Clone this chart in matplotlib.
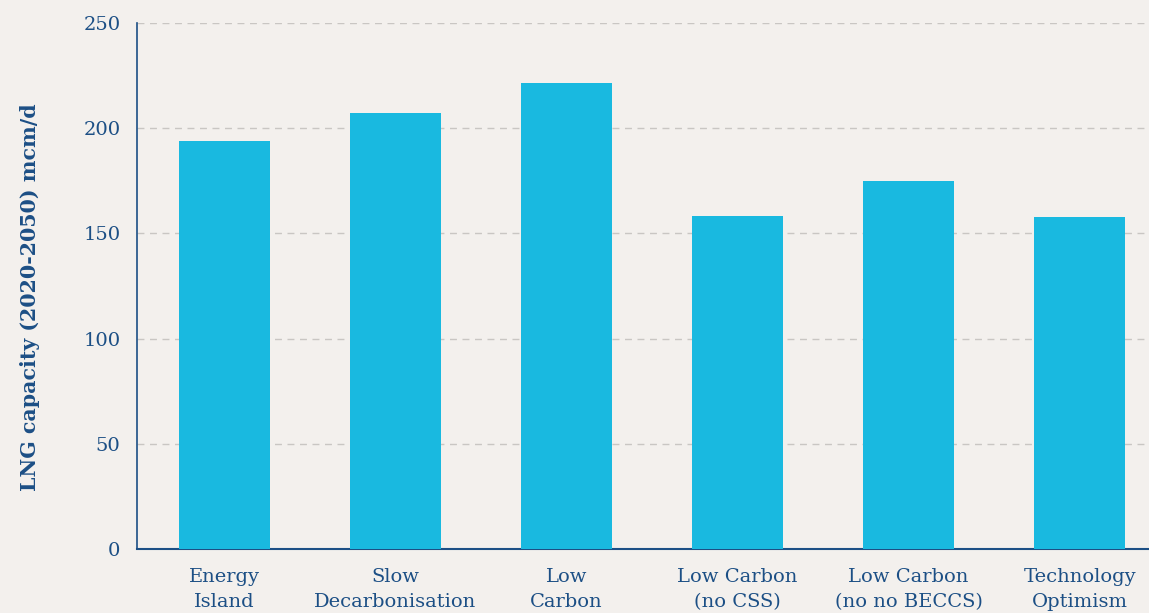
import matplotlib
matplotlib.use("Agg")
import matplotlib.pyplot as plt

categories = ["Energy\nIsland", "Slow\nDecarbonisation", "Low\nCarbon",
              "Low Carbon\n(no CSS)", "Low Carbon\n(no no BECCS)", "Technology\nOptimism"]
values = [193.7, 207.0, 221.4, 158.4, 175.1, 157.9]
yticks = [0, 50, 100, 150, 200, 250]

bg = "#f3f0ed"
bar_color = "#19b9e0"
text_color = "#1c4f85"

plt.rcParams['font.family'] = ['DejaVu Serif']

fig = plt.figure(figsize=(11.49, 6.13), dpi=100, facecolor=bg)
ax = fig.add_axes([137/1149, 1 - 549/613, 1 - 137/1149, (549 - 23)/613])
ax.set_facecolor(bg)

x = list(range(len(categories)))
ax.bar(x, values, width=0.532, color=bar_color, zorder=3)

ax.set_xlim(-0.512, 5.406)
ax.set_ylim(0, 250)
ax.set_yticks(yticks)
ax.set_yticklabels([str(v) for v in yticks])
ax.set_xticks(x)
ax.set_xticklabels(categories, linespacing=1.45)

ax.grid(axis='y', color='#c9c6c3', linestyle=(0, (5, 4)), linewidth=1.0, zorder=0)
ax.grid(axis='x', visible=False)

for s in ['top', 'right']:
    ax.spines[s].set_visible(False)
ax.spines['left'].set_color(text_color)
ax.spines['left'].set_linewidth(1.2)
ax.spines['bottom'].set_color(text_color)
ax.spines['bottom'].set_linewidth(1.5)

ax.tick_params(axis='y', length=0, pad=12, labelsize=14, labelcolor=text_color)
ax.tick_params(axis='x', length=0, pad=14, labelsize=14, labelcolor=text_color)

ax.set_ylabel("LNG capacity (2020-2050) mcm/d", fontsize=14.8, fontweight='bold',
              color=text_color)
ax.yaxis.set_label_coords(-(137 - 40) / (1149 - 137), 0.479)

fig.savefig("out.png", dpi=100, facecolor=bg)
